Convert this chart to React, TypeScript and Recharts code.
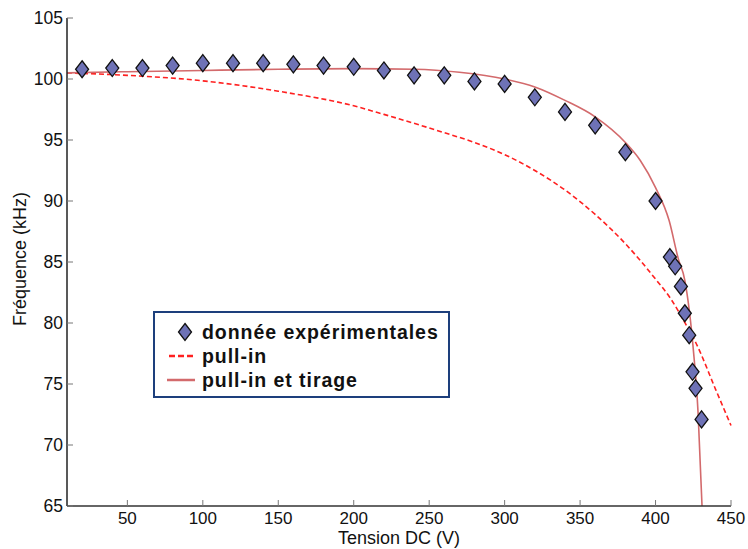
import React from 'react';
import { ComposedChart, Line, Scatter, XAxis, YAxis, Legend } from 'recharts';

// experimental points (Tension DC in V, frequency in kHz)
const mesuresV = [20, 40, 60, 80, 100, 120, 140, 160, 180, 200, 220, 240, 260, 280, 300, 320, 340, 360, 380, 400, 409.5, 413, 416.8, 419.4, 422.3, 424.5, 426.5, 430.5];
const mesuresF = [100.8, 100.9, 100.9, 101.1, 101.3, 101.3, 101.3, 101.2, 101.1, 101.0, 100.7, 100.3, 100.3, 99.8, 99.6, 98.5, 97.3, 96.2, 94.0, 90.0, 85.4, 84.65, 83.0, 80.8, 79.0, 76.0, 74.65, 72.1];

// model "pull-in"
const pullInV = [10, 50, 100, 150, 200, 220, 260, 280, 300, 320, 340, 360, 380, 400, 410, 420, 427, 440, 450];
const pullInF = [100.5, 100.3, 99.85, 99.0, 97.8, 97.1, 95.6, 94.8, 93.8, 92.5, 90.9, 88.9, 86.5, 83.6, 82.0, 79.9, 78.3, 74.5, 71.6];

// model "pull-in et tirage"
const tirageV = [10, 50, 100, 150, 200, 240, 270, 300, 320, 340, 360, 380, 390, 400, 409, 415, 419.4, 424.9, 428.2, 430.8];
const tirageF = [100.5, 100.6, 100.7, 100.8, 100.85, 100.8, 100.55, 100.0, 99.35, 98.25, 96.9, 94.8, 93.3, 91.1, 88.4, 85.3, 83.5, 78.0, 72.6, 65.0];

const xTicks = [50, 100, 150, 200, 250, 300, 350, 400, 450];
const yTicks = [65, 70, 75, 80, 85, 90, 95, 100, 105];

const mesures = mesuresV.map((v, i) => ({ x: v, y: mesuresF[i] }));
const pullIn = pullInV.map((v, i) => ({ x: v, y: pullInF[i] }));
const tirage = tirageV.map((v, i) => ({ x: v, y: tirageF[i] }));

const FONT = '"Liberation Sans", Arial, sans-serif';
const DIAMOND_FILL = '#6e72b6';
const DASH_RED = '#ff2020';
const SOLID_RED = '#d36a6c';

const AXIS_X = 67;
const AXIS_Y = 506;

const Diamond = (props: any) => {
  const { cx, cy } = props;
  if (cx == null || cy == null) return null;
  const w = 6.5, h = 8.5;
  return (
    <polygon
      points={`${cx},${cy - h} ${cx + w},${cy} ${cx},${cy + h} ${cx - w},${cy}`}
      fill={DIAMOND_FILL}
      stroke="#111"
      strokeWidth={1.3}
    />
  );
};

const YTick = (props: any) => {
  const y = props.y;
  return (
    <g>
      <line x1={AXIS_X} x2={AXIS_X + 6} y1={y} y2={y} stroke="#777" strokeWidth={1} />
      <text x={AXIS_X - 4} y={y} dy="0.36em" textAnchor="end" fontSize={17.5} fontFamily={FONT} fill="#111">
        {props.payload.value}
      </text>
    </g>
  );
};

const XTick = (props: any) => {
  const x = props.x;
  return (
    <g>
      <line x1={x} x2={x} y1={AXIS_Y} y2={AXIS_Y - 6} stroke="#777" strokeWidth={1} />
      <text x={x} y={523.5} textAnchor="middle" fontSize={17} fontFamily={FONT} fill="#111">
        {props.payload.value}
      </text>
    </g>
  );
};

const legendRows = [
  { label: 'donnée expérimentales', kind: 'diamond', top: 18.5 },
  { label: 'pull-in', kind: 'dash', top: 42.5 },
  { label: 'pull-in et tirage', kind: 'solid', top: 67 },
];

const renderLegend = () => (
  <div
    style={{
      position: 'relative',
      width: 297,
      height: 87,
      boxSizing: 'border-box',
      border: '2px solid #1d3f7c',
      background: '#fff',
      fontFamily: FONT,
    }}
  >
    {legendRows.map((r) => (
      <div key={r.label}>
        <svg style={{ position: 'absolute', left: 10, top: r.top - 10 }} width={32} height={20}>
          {r.kind === 'diamond' && (
            <polygon points="20,1.5 26.5,10 20,18.5 13.5,10" fill={DIAMOND_FILL} stroke="#111" strokeWidth={1.3} />
          )}
          {r.kind === 'dash' && (
            <line x1={4} x2={30} y1={10} y2={10} stroke={DASH_RED} strokeWidth={2.5} strokeDasharray="6 3" />
          )}
          {r.kind === 'solid' && <line x1={2} x2={30} y1={10} y2={10} stroke={SOLID_RED} strokeWidth={2.5} />}
        </svg>
        <span
          style={{
            position: 'absolute',
            left: 47,
            top: r.top - 12,
            lineHeight: '24px',
            fontSize: 19.5,
            fontWeight: 'bold',
            letterSpacing: 0.95,
            color: '#111',
            whiteSpace: 'nowrap',
          }}
        >
          {r.label}
        </span>
      </div>
    ))}
  </div>
);

export default function App() {
  return (
    <div style={{ position: 'absolute', left: 0, top: 0, width: 748, height: 549, background: '#fff' }}>
      <ComposedChart width={748} height={549} margin={{ top: 18, right: 17, bottom: 0, left: 0 }}>
        <XAxis
          dataKey="x"
          type="number"
          domain={[10, 450]}
          ticks={xTicks}
          height={43}
          axisLine={{ stroke: '#333', strokeWidth: 1.5 }}
          tickLine={false}
          tick={<XTick />}
          interval={0}
          label={{
            content: () => (
              <text x={399} y={543.5} textAnchor="middle" fontSize={18} fontFamily={FONT} fill="#111">
                Tension DC (V)
              </text>
            ),
          }}
        />
        <YAxis
          dataKey="y"
          type="number"
          domain={[65, 105]}
          ticks={yTicks}
          width={67}
          axisLine={{ stroke: '#222', strokeWidth: 1.5 }}
          tickLine={false}
          tick={<YTick />}
          interval={0}
          label={{
            content: () => (
              <text
                x={20}
                y={259}
                transform="rotate(-90 20 259)"
                textAnchor="middle"
                dy="0.36em"
                fontSize={18}
                fontFamily={FONT}
                fill="#111"
              >
                Fréquence (kHz)
              </text>
            ),
          }}
        />
        <Legend
          layout="vertical"
          align="center"
          verticalAlign="middle"
          content={renderLegend}
          wrapperStyle={{ position: 'absolute', left: 153, top: 311, width: 297, height: 87 }}
        />
        <Line
          data={pullIn}
          dataKey="y"
          type="monotone"
          stroke={DASH_RED}
          strokeWidth={1.6}
          strokeDasharray="5 3"
          dot={false}
          activeDot={false}
          isAnimationActive={false}
        />
        <Line
          data={tirage}
          dataKey="y"
          type="monotone"
          stroke={SOLID_RED}
          strokeWidth={1.6}
          dot={false}
          activeDot={false}
          isAnimationActive={false}
        />
        <Scatter data={mesures} dataKey="y" shape={<Diamond />} isAnimationActive={false} />
      </ComposedChart>
    </div>
  );
}
